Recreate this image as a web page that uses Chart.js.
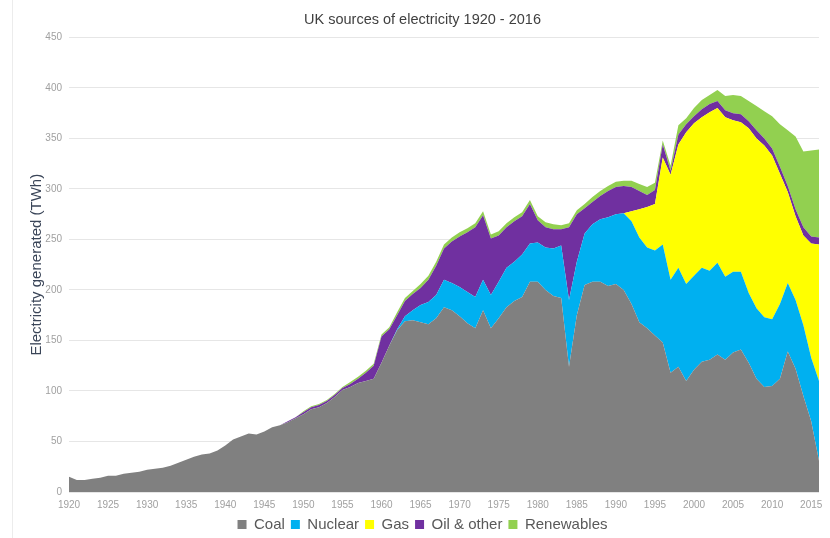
<!DOCTYPE html>
<html>
<head>
<meta charset="utf-8">
<script src="https://cdn.jsdelivr.net/npm/chart.js@4.4.1/dist/chart.umd.min.js"></script>
<style>
  body { margin: 0; background: #fff; }
  #wrap { position: relative; width: 830px; height: 538px; }
  #edge { position: absolute; left: 12px; top: 0; width: 1px; height: 538px; background: #ececec; }
</style>
</head>
<body>
<div id="wrap">
  <div id="edge"></div>
  <canvas id="elecChart" width="830" height="538"></canvas>
</div>
<script>
// years 1920 - 2016
var years = [];
for (var y = 1920; y <= 2016; y++) years.push(String(y));

// TWh
var coal = [
  15, 12, 12, 13, 14, 16, 16, 18, 19, 20,
  22, 23, 24, 26, 29, 32, 35, 37, 38, 41,
  46, 52, 55, 58, 57, 60, 64, 66, 69, 73,
  77, 82, 84, 88, 94, 101, 104, 108, 110, 112,
  128, 145, 160, 169, 170, 168, 166, 172, 183, 180,
  174, 167, 162, 180, 162, 172, 183, 189, 193, 208,
  208, 200, 194, 192, 124, 175, 205, 208, 208, 204,
  206, 200, 186, 168, 162, 155, 148, 118, 124, 110,
  121, 129, 131, 136, 131, 138, 141, 128, 112, 104,
  105, 112, 139, 122, 95, 70, 31
];
var nuclear = [
  0, 0, 0, 0, 0, 0, 0, 0, 0, 0,
  0, 0, 0, 0, 0, 0, 0, 0, 0, 0,
  0, 0, 0, 0, 0, 0, 0, 0, 0, 0,
  0, 0, 0, 0, 0, 0, 0, 0, 0, 0,
  0, 0, 1, 5, 10, 17, 22, 23, 27, 27,
  29, 31, 31, 30, 33, 36, 39, 39, 42, 38,
  39, 42, 47, 52, 66, 53, 51, 57, 62, 68,
  69, 76, 82, 84, 80, 84, 97, 92, 98, 96,
  93, 93, 88, 91, 82, 80, 77, 69, 70, 69,
  66, 74, 68, 68, 70, 63, 79
];
var gas = [
  0, 0, 0, 0, 0, 0, 0, 0, 0, 0,
  0, 0, 0, 0, 0, 0, 0, 0, 0, 0,
  0, 0, 0, 0, 0, 0, 0, 0, 0, 0,
  0, 0, 0, 0, 0, 0, 0, 0, 0, 0,
  0, 0, 0, 0, 0, 0, 0, 0, 0, 0,
  0, 0, 0, 0, 0, 0, 0, 0, 0, 0,
  0, 0, 0, 0, 0, 0, 0, 0, 0, 0,
  0, 0, 10, 28, 40, 46, 86, 104, 122, 150,
  151, 149, 157, 153, 158, 150, 148, 163, 168, 170,
  162, 129, 90, 83, 89, 113, 135
];
var oilOther = [
  0, 0, 0, 0, 0, 0, 0, 0, 0, 0,
  0, 0, 0, 0, 0, 0, 0, 0, 0, 0,
  0, 0, 0, 0, 0, 0, 0, 0, 1, 1,
  2, 2, 2, 2, 2, 2, 3, 4, 8, 13,
  26, 16, 14, 15, 16, 17, 22, 29, 31, 41,
  50, 59, 69, 64, 56, 46, 40, 40, 38, 39,
  22, 20, 19, 16, 72, 47, 25, 22, 23, 26,
  27, 27, 24, 18, 12, 14, 13, 4, 10, 8,
  7, 8, 8, 7, 7, 7, 8, 7, 8, 7,
  7, 7, 6, 7, 8, 7, 7
];
var renewables = [
  0, 0, 0, 0, 0, 0, 0, 0, 0, 0,
  0, 0, 0, 0, 0, 0, 0, 0, 0, 0,
  0, 0, 0, 0, 0, 0, 0, 0, 0, 0,
  1, 1, 1, 1, 1, 1, 2, 2, 2, 2,
  2, 2, 3, 3, 3, 4, 4, 4, 4, 4,
  4, 4, 4, 4, 4, 4, 4, 4, 4, 4,
  4, 5, 5, 4, 4, 4, 4, 5, 5, 5,
  5, 5, 6, 7, 8, 7, 4, 5, 9, 6,
  8, 9, 9, 11, 14, 18, 18, 20, 24, 27,
  32, 42, 55, 72, 75, 85, 87
];

var seriesNames = ['Coal', 'Nuclear', 'Gas', 'Oil & other', 'Renewables'];
var seriesColors = ['#808080', '#00B0F0', '#FFFF00', '#7030A0', '#92D050'];
var seriesData = [coal, nuclear, gas, oilOther, renewables];

var font = '"Liberation Sans", Arial, sans-serif';

function makeSets() {
  var sets = [];
  for (var i = 0; i < seriesData.length; i++) {
    sets.push({
      label: seriesNames[i],
      data: seriesData[i],
      backgroundColor: seriesColors[i],
      borderColor: seriesColors[i],
      borderWidth: 0,
      pointRadius: 0,
      tension: 0,
      fill: i === 0 ? 'origin' : '-1'
    });
  }
  return sets;
}

var ctx = document.getElementById('elecChart').getContext('2d');
var chart = new Chart(ctx, {
  type: 'line',
  data: { labels: years, datasets: makeSets() },
  options: {
    responsive: false,
    animation: false,
    layout: { padding: { left: 26, right: 11, top: 0, bottom: -4 } },
    plugins: {
      title: {
        display: true,
        text: 'UK sources of electricity 1920 - 2016',
        color: '#404040',
        font: { family: font, size: 14.5, weight: 'normal' },
        padding: { top: 11, bottom: 9 }
      },
      legend: {
        position: 'bottom',
        labels: {
          color: '#595959',
          font: { family: font, size: 15 },
          boxWidth: 9,
          boxHeight: 9,
          padding: 6
        }
      },
      tooltip: { enabled: false }
    },
    scales: {
      x: {
        grid: { display: false, drawTicks: false },
        border: { display: false },
        ticks: {
          autoSkip: false,
          maxRotation: 0,
          color: '#a0a0a0',
          font: { family: font, size: 10 },
          padding: 7,
          callback: function (v, i) {
            var yr = Number(years[i]);
            return (yr % 5 === 0) ? years[i] : null;
          }
        },
        afterFit: function (s) { s.height = 19; }
      },
      y: {
        stacked: true,
        min: 0,
        max: 450,
        grid: { color: '#e6e6e6', drawTicks: false },
        border: { display: false },
        ticks: {
          stepSize: 50,
          color: '#a0a0a0',
          font: { family: font, size: 10 },
          padding: 7
        },
        title: {
          display: true,
          text: 'Electricity generated (TWh)',
          color: '#3a4558',
          font: { family: font, size: 15 },
          padding: { top: 2, bottom: 4 }
        },
        afterFit: function (s) { s.width = 43; }
      }
    }
  }
});
</script>
</body>
</html>
